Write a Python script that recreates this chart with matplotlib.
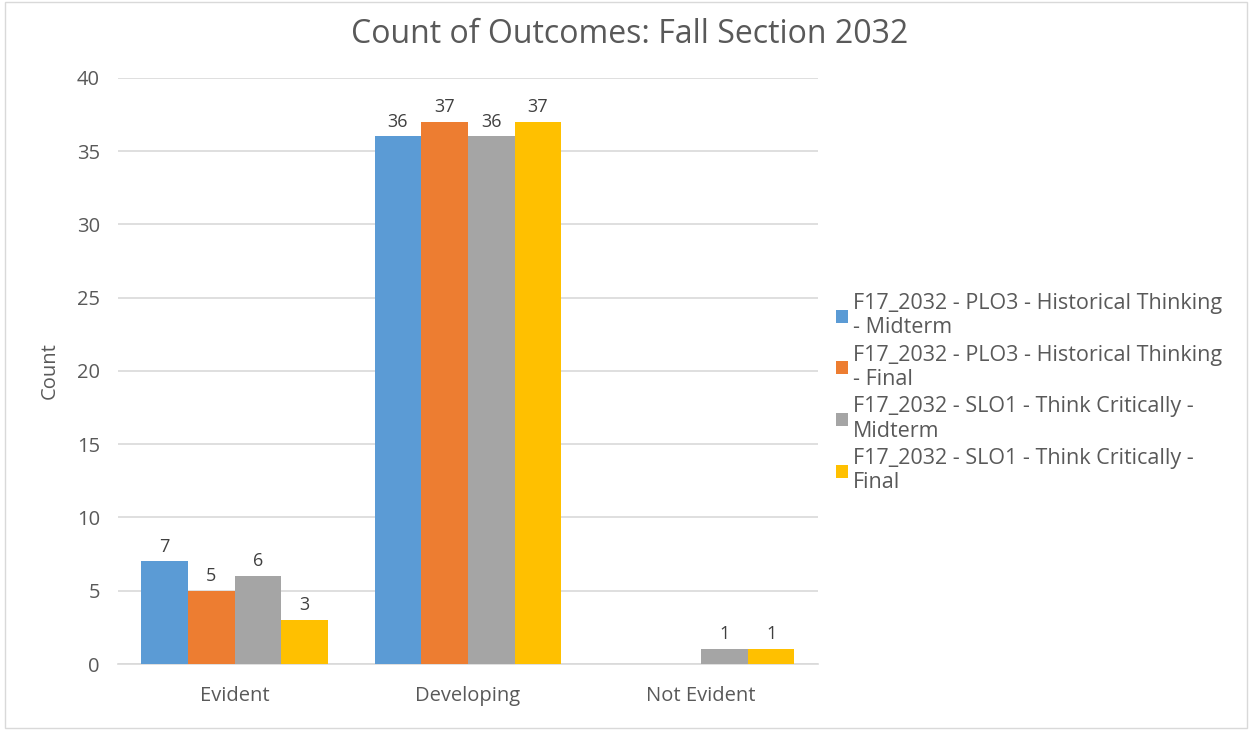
import matplotlib
matplotlib.use("Agg")
import matplotlib.pyplot as plt
import numpy as np
from matplotlib.patches import Rectangle

categories = ["Evident", "Developing", "Not Evident"]
series_names = [
    "F17_2032 - PLO3 - Historical Thinking\n- Midterm",
    "F17_2032 - PLO3 - Historical Thinking\n- Final",
    "F17_2032 - SLO1 - Think Critically -\nMidterm",
    "F17_2032 - SLO1 - Think Critically -\nFinal",
]
plo3_midterm = [7, 36, 0]
plo3_final = [5, 37, 0]
slo1_midterm = [6, 36, 1]
slo1_final = [3, 37, 1]
yticks = [0, 5, 10, 15, 20, 25, 30, 35, 40]

colors = ["#5B9BD5", "#ED7D31", "#A5A5A5", "#FFC000"]
series = [plo3_midterm, plo3_final, slo1_midterm, slo1_final]

plt.rcParams["font.family"] = ["Open Sans", "DejaVu Sans"]
text_color = "#595959"

fig = plt.figure(figsize=(12.52, 7.3), dpi=100)
ax = fig.add_axes([0.0942, 0.0904, 0.559, 0.803])

x = np.arange(len(categories))
width = 0.2
for i, (vals, c, name) in enumerate(zip(series, colors, series_names)):
    pos = x + (i - 1.5) * width
    bars = ax.bar(pos, vals, width, color=c, label=name, zorder=3)
    for b, v in zip(bars, vals):
        if v > 0:
            ax.text(b.get_x() + b.get_width() / 2, v + 0.4, str(v),
                    ha="center", va="bottom", fontsize=13, color="#404040")

ax.set_xlim(-0.5, 2.5)
ax.set_ylim(0, 40)
ax.set_yticks(yticks)
ax.set_xticks(x)
ax.set_xticklabels(categories)
ax.yaxis.grid(True, color="#D9D9D9", linewidth=1.2, zorder=0)
for s in ["top", "right", "left"]:
    ax.spines[s].set_visible(False)
ax.spines["bottom"].set_color("#D9D9D9")
ax.spines["bottom"].set_linewidth(1.2)
ax.tick_params(axis="both", length=0, labelsize=14.5, colors=text_color)
ax.tick_params(axis="y", pad=13)
ax.tick_params(axis="x", pad=16)
ax.set_ylabel("Count", fontsize=14.5, color=text_color, labelpad=12)

fig.suptitle("Count of Outcomes: Fall Section 2032", x=0.503, y=0.975,
             fontsize=23, color=text_color)

leg = ax.legend(loc="center left", bbox_to_anchor=(1.005, 0.462), frameon=False,
                fontsize=15.5, handlelength=0.55, handleheight=0.55,
                handletextpad=0.2, labelspacing=0.3, labelcolor=text_color,
                borderaxespad=0.3)

fig.patches.append(Rectangle((0.004, 0.003), 0.992, 0.994, transform=fig.transFigure,
                             fill=False, edgecolor="#D9D9D9", linewidth=1))

fig.savefig("out.png", dpi=100, facecolor="white")
